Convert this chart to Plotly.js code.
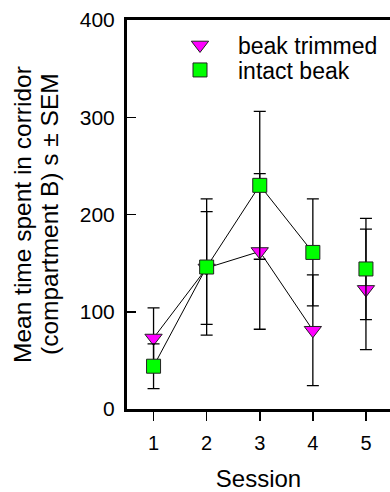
<!DOCTYPE html>
<html>
<head>
<meta charset="utf-8">
<script src="https://cdn.plot.ly/plotly-3.0.1.min.js"></script>
<style>html,body{margin:0;padding:0;background:#fff;}#chart{width:390px;height:492px;}</style>
</head>
<body>
<div id="chart"></div>
<script>
const sessions = [1, 2, 3, 4, 5];
const trimmedMean = [73, 145, 162, 81, 123];
const trimmedSem = [31, 58, 80, 57, 62];
const intactMean = [44, 146, 230, 161, 144];
const intactSem = [23, 70, 76, 55, 52];
const seriesNames = ["beak trimmed", "intact beak"];
const yTitleLines = ["Mean time spent in corridor", "(compartment B) s ± SEM"];
const xTitle = "Session";
const connectedCount = 4; // sessions joined by lines

const font = "Liberation Sans, Arial, Helvetica, sans-serif";

// plot area in pixels (for placing the free-standing title lines)
const M = {l: 127, r: 0, t: 20, b: 83};
const W = 390, H = 492;
const pw = W - M.l - M.r;
const px2paper = p => (p - M.l) / pw;
const ph = H - M.t - M.b;
const py2paper = p => (H - M.b - p) / ph;

const traces = [
  {x: sessions.slice(0, connectedCount), y: intactMean.slice(0, connectedCount), mode: "lines",
   line: {color: "#000", width: 1}, showlegend: false, hoverinfo: "skip"},
  {x: sessions.slice(0, connectedCount), y: trimmedMean.slice(0, connectedCount), mode: "lines",
   line: {color: "#000", width: 1}, showlegend: false, hoverinfo: "skip"},
  {x: sessions, y: trimmedMean, name: seriesNames[0], mode: "markers", legend: "legend",
   error_y: {type: "data", array: trimmedSem, visible: true, color: "#000", thickness: 1.3, width: 6},
   marker: {symbol: "triangle-down", size: 15, color: "#ff00ff", line: {color: "#222", width: 1}}},
  {x: sessions, y: intactMean, name: seriesNames[1], mode: "markers", legend: "legend2",
   error_y: {type: "data", array: intactSem, visible: true, color: "#000", thickness: 1.3, width: 6},
   marker: {symbol: "square", size: 14, color: "#00ff00", line: {color: "#222", width: 1}}}
];

const legendCommon = {x: px2paper(162), xanchor: "left", yanchor: "middle", bgcolor: "rgba(0,0,0,0)",
                      font: {size: 23, family: font}, itemwidth: 66};

const layout = {
  width: W, height: H,
  margin: M,
  paper_bgcolor: "#fff", plot_bgcolor: "#fff",
  font: {family: font, color: "#000", size: 20},
  showlegend: true,
  legend: Object.assign({y: py2paper(45)}, legendCommon),
  legend2: Object.assign({y: py2paper(70)}, legendCommon),
  xaxis: {range: [0.5, 5.453], tickvals: sessions, ticktext: sessions.map(String),
          showline: true, linewidth: 3, linecolor: "#000", mirror: true,
          ticks: "outside", ticklen: 9, tickwidth: 1.5, tickcolor: "#000",
          ticklabelstandoff: 5,
          showgrid: false, zeroline: false,
          tickfont: {size: 20},
          title: {text: xTitle, font: {size: 24}, standoff: 22}},
  yaxis: {range: [0, 400], tickvals: [0, 100, 200, 300, 400],
          showline: true, linewidth: 3, linecolor: "#000", mirror: false,
          ticks: "inside", ticklen: 9, tickwidth: 1.5, tickcolor: "#000",
          ticklabelstandoff: 5,
          showgrid: false, zeroline: false,
          tickfont: {size: 21}},
  annotations: [
    {text: yTitleLines[0], xref: "paper", yref: "paper", x: px2paper(22.5), y: 0.5,
     xanchor: "center", yanchor: "middle", textangle: -90, showarrow: false, font: {size: 24.5}},
    {text: yTitleLines[1], xref: "paper", yref: "paper", x: px2paper(49.5), y: 0.5,
     xanchor: "center", yanchor: "middle", textangle: -90, showarrow: false, font: {size: 24.5}}
  ]
};

Plotly.newPlot("chart", traces, layout, {displayModeBar: false, staticPlot: true});
</script>
</body>
</html>
